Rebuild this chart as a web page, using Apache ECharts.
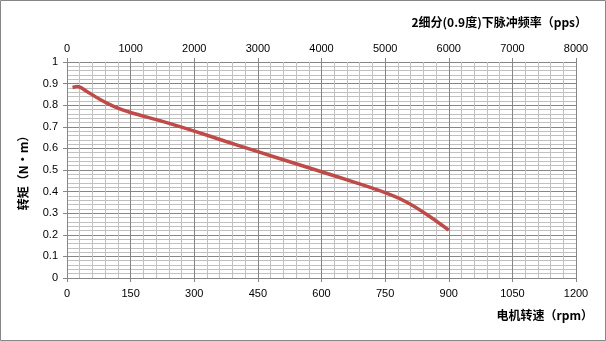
<!DOCTYPE html>
<html>
<head>
<meta charset="utf-8">
<script src="https://cdn.jsdelivr.net/npm/echarts@6/dist/echarts.min.js"></script>
<style>
  html, body { margin: 0; padding: 0; background: #fff; }
  #chart { width: 606px; height: 341px; }
</style>
</head>
<body>
<div id="chart"></div>
<script>
// motor speed (rpm) vs torque (N·m)
const speed = [13, 25, 45, 75, 110, 150, 225, 300, 375, 450, 525, 600, 675, 750, 800, 850, 900];
const torque = [0.882, 0.886, 0.866, 0.83, 0.795, 0.766, 0.725, 0.68, 0.632, 0.585, 0.538, 0.492, 0.445, 0.395, 0.352, 0.292, 0.222];

const rpmTicks = { min: 0, max: 1200, interval: 150 };
const ppsTicks = { min: 0, max: 8000, interval: 1000 };
const torqueTicks = { min: 0, max: 1, interval: 0.1 };

const topTitle = "2细分(0.9度)下脉冲频率（pps）";
const bottomTitle = "电机转速（rpm）";
const yTitle = "转矩（N·m）";

const font = "Liberation Sans, Arial, sans-serif";
const cjk = "Noto Sans CJK SC, sans-serif";

const chart = echarts.init(document.getElementById("chart"));

chart.setOption({
  animation: false,
  backgroundColor: "#fff",
  graphic: [{
    type: "rect",
    shape: { x: 0.5, y: 0.5, width: 605, height: 340 },
    style: { fill: "none", stroke: "#868686", lineWidth: 1 },
    silent: true
  }],
  title: [
    {
      text: topTitle,
      right: 14,
      top: 11,
      textStyle: { fontFamily: cjk, fontSize: 12, fontWeight: "bold", color: "#000" }
    },
    {
      text: bottomTitle,
      right: 8,
      top: 304,
      textStyle: { fontFamily: cjk, fontSize: 12, fontWeight: "bold", color: "#000" }
    }
  ],
  grid: { left: 67, right: 30, top: 62, bottom: 63 },
  xAxis: [
    {
      type: "value",
      position: "bottom",
      min: rpmTicks.min,
      max: rpmTicks.max,
      interval: rpmTicks.interval,
      axisLine: { show: true, lineStyle: { color: "#868686" } },
      axisTick: { show: true, length: 4, lineStyle: { color: "#868686" } },
      axisLabel: { color: "#000", fontFamily: font, fontSize: 11, margin: 10, formatter: v => String(v) },
      splitLine: { show: true, lineStyle: { color: "#868686", width: 1 } },
      minorTick: { show: false, splitNumber: 5 },
      minorSplitLine: { show: true, lineStyle: { color: "#c0c0c0", width: 1 } }
    },
    {
      type: "value",
      position: "top",
      min: ppsTicks.min,
      max: ppsTicks.max,
      interval: ppsTicks.interval,
      axisLine: { show: false },
      axisTick: { show: true, length: 4, lineStyle: { color: "#868686" } },
      axisLabel: { color: "#000", fontFamily: font, fontSize: 11, margin: 8, formatter: v => String(v) },
      splitLine: { show: false }
    }
  ],
  yAxis: {
    type: "value",
    min: torqueTicks.min,
    max: torqueTicks.max,
    interval: torqueTicks.interval,
    name: yTitle,
    nameLocation: "middle",
    nameGap: 38,
    nameRotate: 90,
    nameTextStyle: { fontFamily: cjk, fontSize: 12, fontWeight: "bold", color: "#000" },
    axisLine: { show: true, lineStyle: { color: "#868686" } },
    axisTick: { show: true, length: 4, lineStyle: { color: "#868686" } },
    axisLabel: { color: "#000", fontFamily: font, fontSize: 11, margin: 9, formatter: v => String(Math.round(v * 10) / 10) },
    splitLine: { show: true, lineStyle: { color: "#868686", width: 1 } },
    minorTick: { show: false, splitNumber: 5 },
    minorSplitLine: { show: true, lineStyle: { color: "#c0c0c0", width: 1 } }
  },
  series: [{
    type: "line",
    xAxisIndex: 0,
    data: speed.map((s, i) => [s, torque[i]]),
    smooth: 0.3,
    showSymbol: false,
    lineStyle: { color: "#be4b48", width: 3.5 }
  }]
});
</script>
</body>
</html>
